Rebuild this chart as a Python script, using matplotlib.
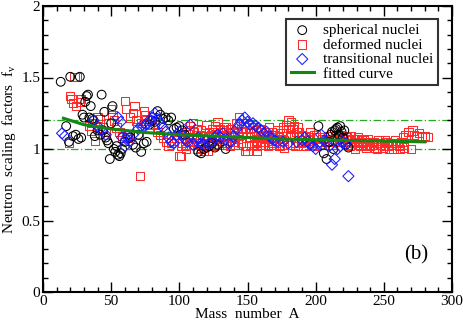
import matplotlib
matplotlib.use("Agg")
import matplotlib.pyplot as plt
from matplotlib.ticker import MultipleLocator

plt.rcParams['font.family'] = ['Liberation Serif', 'DejaVu Serif']
plt.rcParams['mathtext.fontset'] = 'custom'
plt.rcParams['mathtext.rm'] = 'Liberation Serif'
plt.rcParams['mathtext.it'] = 'Liberation Serif:italic'

# ---- data ----
sph_A = [13, 17, 19, 20, 22, 24, 26, 27, 28, 29, 30, 31, 32, 33, 34, 35, 36, 37, 38, 40,
         42, 43, 44, 45, 46, 47, 48, 49, 50, 51, 52, 53, 54, 55, 56, 57, 58, 60, 62, 64,
         66, 68, 70, 72, 74, 76, 78, 80, 82, 84, 86, 88, 90, 92, 94, 96, 98, 100, 102, 104,
         114, 116, 118, 120, 122, 124, 126, 128, 134, 202, 206, 208, 210, 211, 212, 213, 214,
         215, 216, 217, 218, 219, 220, 221, 222, 224]
sph_f = [1.47, 1.16, 1.05, 1.505, 1.09, 1.10, 1.07, 1.505, 1.08, 1.24, 1.22, 1.33, 1.37, 1.38,
         1.22, 1.30, 1.21, 1.20, 1.09, 1.13, 1.10, 1.38, 1.13, 1.26, 1.08, 1.06, 1.04, 0.93,
         1.18, 1.30, 1.00, 0.98, 1.02, 0.96, 0.95, 0.97, 1.00, 1.05, 1.10, 1.08, 1.03, 1.01,
         1.10, 0.98, 1.04, 1.05, 1.17, 1.20, 1.19, 1.265, 1.24, 1.21, 1.22, 1.20, 1.22, 1.14,
         1.15, 1.16, 1.13, 1.10, 0.98, 0.97, 1.00, 1.01, 1.02, 1.04, 1.01, 1.03, 1.00, 1.16,
         0.97, 0.93, 1.05, 1.10, 1.12, 1.00, 1.13, 1.14, 1.15, 1.10, 1.16, 1.12, 1.08, 1.13,
         1.03, 1.01]

def_A = [20, 21, 22, 23, 25, 19, 24, 26, 27, 28, 34, 35, 36, 38, 40, 42, 44, 46, 48, 50,
         51, 52, 54, 56, 58, 60, 61, 62, 64, 66, 67, 68, 69, 70, 71, 72, 74, 75, 76, 78,
         80, 82, 84, 86, 88, 90, 92, 94, 96, 98, 100, 101, 102, 104, 106, 108, 110, 112, 114, 116,
         118, 120, 122, 124, 126, 128, 130, 132, 134, 136, 138, 140, 142, 144, 146, 148, 150, 152, 154, 156,
         157, 158, 160, 162, 164, 166, 168, 170, 172, 174, 176, 178, 180, 182, 184, 186, 188, 190, 192, 194,
         196, 198, 200, 204, 208, 212, 214, 216, 218, 220, 222, 224, 226, 228, 230, 232, 234, 236, 238, 240,
         242, 244, 246, 248, 250, 252, 254, 256, 258, 260, 262, 264, 266, 268, 270, 271, 272, 274, 276, 278,
         280, 282,
         103, 105, 107, 109, 111, 113, 115, 117, 119, 121, 123, 125, 127, 129, 131, 133, 135, 137, 139, 141,
         143, 145, 147, 149, 151, 153, 155, 157, 159, 161, 163, 165, 167, 169, 171, 173, 175, 177, 179, 181,
         183, 185, 187, 189, 191, 195, 199, 203, 206, 210,
         101, 105, 109, 113, 117, 121, 125, 129, 133, 137, 141, 145, 149, 153, 157, 161, 165, 169, 173, 177,
         181, 185, 189, 193, 197, 201, 225, 229, 233, 237, 241, 245, 249, 253, 257, 261, 265,
         215, 219, 223, 227, 231, 235, 239,
         104, 108, 112, 116, 120, 124, 128, 132, 136, 140, 144, 148, 152, 156, 160, 164, 168, 172, 176, 180,
         184, 188, 192, 196, 200, 205, 209, 213, 217, 221, 226, 230, 234, 238, 243, 247, 251, 255, 259, 263]
def_f = [1.37, 1.35, 1.32, 1.505, 1.505, 1.04, 1.30, 1.35, 1.33, 1.35, 1.16, 1.13, 1.18, 1.055, 1.22, 1.21, 1.15, 1.12, 1.18, 1.28,
         1.24, 1.20, 1.15, 1.12, 1.08, 1.335, 1.28, 1.08, 1.22, 1.25, 1.30, 1.20, 1.15, 1.10, 0.81, 1.18, 1.265, 1.235, 1.20, 1.15,
         1.22, 1.17, 1.12, 1.10, 1.08, 1.05, 1.02, 1.04, 1.06, 1.08, 0.95, 0.95, 1.04, 1.02, 1.06, 1.16, 1.18, 1.08, 1.03, 1.01,
         0.99, 1.17, 1.12, 1.06, 1.16, 1.19, 1.14, 1.10, 1.15, 1.12, 1.08, 1.05, 1.18, 1.22, 1.12, 0.985, 0.985, 1.08, 1.15, 1.05,
         0.985, 1.10, 1.03, 1.12, 1.07, 1.15, 1.04, 1.10, 1.13, 1.02, 1.15, 1.17, 1.20, 1.19, 1.16, 1.12, 1.08, 1.05, 1.09, 1.06,
         1.12, 1.04, 1.08, 1.05, 1.06, 1.03, 1.09, 1.07, 1.10, 1.05, 1.08, 1.07, 1.06, 1.04, 1.07, 1.03, 1.06, 1.02, 1.05, 1.02,
         1.04, 1.01, 1.06, 1.03, 1.02, 1.05, 1.00, 1.03, 1.06, 1.04, 1.00, 1.08, 1.10, 1.12, 1.00, 1.13, 1.10, 1.09, 1.11, 1.08,
         1.09, 1.085,
         1.10, 1.12, 1.08, 1.05, 1.12, 1.14, 1.10, 1.06, 1.04, 1.08, 1.10, 1.12, 1.09, 1.06, 1.12, 1.15, 1.09, 1.14, 1.11, 1.10,
         1.07, 1.14, 1.18, 1.12, 1.17, 1.12, 1.09, 1.06, 1.14, 1.09, 1.05, 1.12, 1.08, 1.06, 1.04, 1.09, 1.11, 1.06, 1.03, 1.10,
         1.14, 1.04, 1.15, 1.10, 1.02, 1.08, 1.10, 1.03, 1.08, 1.05,
         1.02, 1.00, 1.03, 1.00, 1.02, 0.99, 1.02, 1.03, 1.04, 1.02, 1.03, 1.04, 1.02, 1.03, 1.02, 1.03, 1.02, 1.03, 1.02, 1.01,
         1.03, 1.02, 1.04, 1.02, 1.03, 1.02, 1.02, 1.00, 1.02, 1.01, 1.03, 1.00, 1.01, 1.02, 1.00, 1.02, 1.01,
         1.10, 1.09, 1.08, 1.07, 1.08, 1.06, 1.05,
         1.07, 1.13, 1.10, 1.13, 1.09, 1.14, 1.07, 1.13, 1.10, 1.12, 1.09, 1.15, 1.11, 1.13, 1.08, 1.10, 1.12, 1.08, 1.13, 1.15,
         1.09, 1.12, 1.05, 1.07, 1.10, 1.07, 1.09, 1.06, 1.05, 1.07, 1.09, 1.05, 1.04, 1.07, 1.05, 1.04, 1.06, 1.04, 1.03, 1.05]

tr_A = [14, 16, 37, 40, 43, 46, 55, 57, 58, 60, 61, 62, 64, 66, 70, 72, 74, 76, 78, 80,
        82, 84, 86, 88, 90, 92, 94, 96, 98, 100, 102, 104, 106, 108, 110, 112, 114, 116, 118, 120,
        122, 124, 126, 128, 130, 132, 134, 136, 138, 140, 142, 144, 146, 148, 150, 152, 154, 156, 158, 160,
        162, 164, 166, 168, 170, 172, 176, 180, 186, 190, 192, 194, 196, 198, 200, 202, 204, 206, 208, 210,
        212, 214, 216, 218, 220, 222, 224]
tr_f = [1.11, 1.09, 1.20, 1.16, 1.13, 1.10, 1.22, 1.19, 1.08, 1.02, 1.07, 1.09, 1.06, 1.10, 1.14, 1.16, 1.16, 1.17, 1.20, 1.22,
        1.25, 1.21, 1.18, 1.15, 1.12, 1.08, 1.05, 1.04, 1.10, 1.12, 1.10, 1.07, 1.05, 1.17, 1.03, 1.06, 1.08, 1.04, 1.03, 1.06,
        1.04, 1.05, 1.08, 1.10, 1.08, 1.11, 1.07, 1.04, 1.05, 1.09, 1.14, 1.17, 1.20, 1.22, 1.19, 1.17, 1.18, 1.16, 1.15, 1.13,
        1.11, 1.12, 1.09, 1.07, 1.06, 1.05, 1.05, 1.04, 1.05, 1.06, 1.08, 1.05, 1.03, 1.02, 1.00, 1.04, 1.10, 1.06, 1.05, 1.02,
        0.89, 0.93, 1.00, 1.02, 1.05, 1.04, 0.81]

fit_A = [15, 30, 50, 75, 100, 125, 150, 175, 200, 225, 250, 280]
fit_f = [1.215, 1.17, 1.14, 1.115, 1.10, 1.09, 1.08, 1.07, 1.065, 1.06, 1.055, 1.05]

ref_levels = [1.0, 1.2]

# ---- figure ----
fig = plt.figure(figsize=(4.63, 3.22), dpi=100)
ax = fig.add_axes([43/463, 30/322, 409/463, 286/322])

for lv in ref_levels:
    ax.axhline(lv, color='#22aa22', lw=0.9, ls=(0, (6, 2, 1, 2)), zorder=1)

ax.scatter(def_A, def_f, s=36, marker='s', facecolors='none', edgecolors='#ff2a2a',
           linewidths=0.75, label='deformed nuclei', zorder=2)
ax.scatter(sph_A, sph_f, s=40, marker='o', facecolors='none', edgecolors='black',
           linewidths=0.75, label='spherical nuclei', zorder=3)
ax.scatter(tr_A, tr_f, s=32, marker='D', facecolors='none', edgecolors='#1a1aff',
           linewidths=0.75, label='transitional nuclei', zorder=4)
ax.plot(fit_A, fit_f, color='#118811', lw=2.2, label='fitted curve', zorder=5)

ax.set_xlim(0, 300)
ax.set_ylim(0, 2)
ax.xaxis.set_major_locator(MultipleLocator(50))
ax.xaxis.set_minor_locator(MultipleLocator(10))
ax.yaxis.set_major_locator(MultipleLocator(0.5))
ax.yaxis.set_minor_locator(MultipleLocator(0.1))
ax.set_yticks([0, 0.5, 1, 1.5, 2])
ax.set_yticklabels(['0', '0.5', '1', '1.5', '2'])
ax.tick_params(which='both', direction='in', top=True, right=True, labelsize=11, width=1.0)
ax.tick_params(which='major', length=7, pad=2)
ax.tick_params(which='minor', length=3.5)
for sp in ax.spines.values():
    sp.set_linewidth(1.5)

ax.set_xlabel('Mass  number  A', fontsize=11, labelpad=0)
ax.set_ylabel(r'Neutron  scaling  factors  f$_\mathrm{v}$', fontsize=11, labelpad=2)

ax.text(274, 0.26, '(b)', fontsize=15, ha='center', va='center')

h, l = ax.get_legend_handles_labels()
order = [l.index('spherical nuclei'), l.index('deformed nuclei'),
         l.index('transitional nuclei'), l.index('fitted curve')]
leg = ax.legend([h[i] for i in order], [l[i] for i in order], loc='upper right',
                bbox_to_anchor=(0.965, 0.955), fontsize=11, frameon=True, fancybox=False,
                edgecolor='black', borderpad=0.3, labelspacing=0.05, handlelength=1.5,
                handletextpad=0.6, borderaxespad=0)
leg.get_frame().set_linewidth(1.5)

fig.savefig('out.png', dpi=100)
